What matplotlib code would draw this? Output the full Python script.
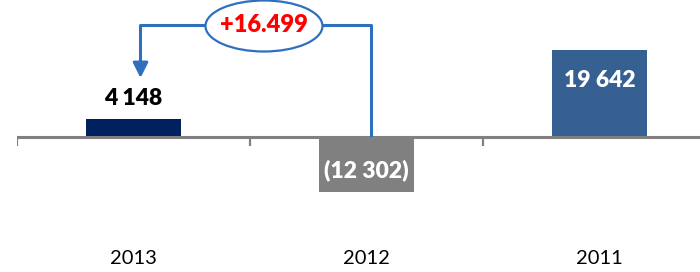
import matplotlib.pyplot as plt
from matplotlib.patches import Ellipse

plt.rcParams["font.family"] = ["Lato", "DejaVu Sans"]

years = ["2013", "2012", "2011"]
values = [4148, -12302, 19642]
value_labels = ["4 148", "(12 302)", "19 642"]
bar_colors = ["#002060", "#808080", "#376092"]
change_label = "+16.499"

UNITS_PER_PX = 225
AXIS_Y_PX = 137
FIG_W, FIG_H = 700, 272

fig = plt.figure(figsize=(FIG_W / 100, FIG_H / 100), dpi=100)
ax = fig.add_axes([17 / FIG_W, 0, 699 / FIG_W, 1])
ax.set_xlim(-0.5, 2.5)
ax.set_ylim(-(FIG_H - AXIS_Y_PX) * UNITS_PER_PX, AXIS_Y_PX * UNITS_PER_PX)
ax.axis("off")

x = list(range(len(years)))
ax.bar(x, values, width=0.405, color=bar_colors, zorder=2)

# category axis with ticks between categories
ax.axhline(0, color="#808080", lw=2.2, zorder=3)
for b in [-0.5, 0.5, 1.5, 2.5]:
    ax.plot([b, b], [0, -9 * UNITS_PER_PX], color="#808080", lw=1.6, zorder=3,
            solid_capstyle="butt")

for xi, yr in zip(x, years):
    ax.text(xi, -122 * UNITS_PER_PX, yr, ha="center", va="center", fontsize=14.5, color="black")

# value labels
lbl = dict(ha="center", va="center", fontsize=16.5, fontweight="heavy", zorder=4)
ax.text(x[0], values[0] + 4600, value_labels[0], color="black", **lbl)
ax.text(x[1], values[1] * 0.6, value_labels[1], color="white", **lbl)
ax.text(x[2], values[2] - 7000, value_labels[2], color="white", **lbl)

# change callout from 2012 to 2013
line_c = "#2E6FBF"
top_y = (AXIS_Y_PX - 25) * UNITS_PER_PX
start_x = x[1] + 0.02
end_x = x[0] + 0.03
ax.plot([start_x, start_x, end_x, end_x], [2 * UNITS_PER_PX, top_y, top_y, 75 * UNITS_PER_PX],
        color=line_c, lw=2.2, zorder=3)
ax.annotate("", xy=(end_x, (AXIS_Y_PX - 78) * UNITS_PER_PX),
            xytext=(end_x, (AXIS_Y_PX - 60) * UNITS_PER_PX),
            arrowprops=dict(arrowstyle="-|>,head_length=0.9,head_width=0.45",
                            color=line_c, lw=2.2, shrinkA=0, shrinkB=0), zorder=3)

mid_x = (x[0] + x[1]) / 2 + 0.06
ell = Ellipse((mid_x, top_y - 1 * UNITS_PER_PX), width=117 / 233, height=51 * UNITS_PER_PX,
              facecolor="white", edgecolor=line_c, lw=1.6, zorder=4)
ax.add_patch(ell)
ax.text(mid_x, top_y, change_label, ha="center", va="center", fontsize=17,
        fontweight="heavy", color="#FF0000", zorder=5)

fig.savefig("out.png", dpi=100)
